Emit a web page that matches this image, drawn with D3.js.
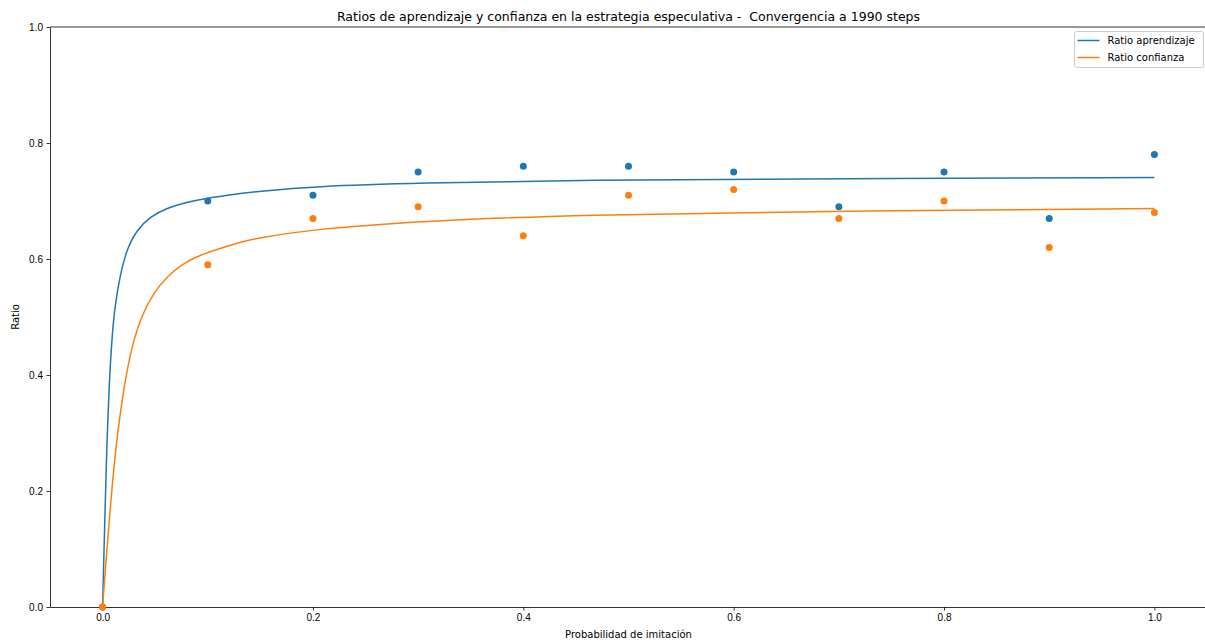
<!DOCTYPE html>
<html>
<head>
<meta charset="utf-8">
<script src="https://cdn.jsdelivr.net/npm/d3@7"></script>
<style>
body { margin: 0; background: #fff; }
svg { display: block; font-family: "DejaVu Sans", sans-serif; }
.axis path, .axis line { stroke: #000; stroke-width: 0.8; }
.axis text { font-size: 10px; fill: #000; }
</style>
</head>
<body>
<svg id="myGraph" width="1205" height="643"></svg>
<script>
// puntos medidos
var probs = [0.0, 0.1, 0.2, 0.3, 0.4, 0.5, 0.6, 0.7, 0.8, 0.9, 1.0];
var aprendizaje = [0.0, 0.70, 0.71, 0.75, 0.76, 0.76, 0.75, 0.69, 0.75, 0.67, 0.78];
var confianza = [0.0, 0.59, 0.67, 0.69, 0.64, 0.71, 0.72, 0.67, 0.70, 0.62, 0.68];

// curvas ajustadas
var curvaAprX = [0, 0.0008, 0.0024, 0.004, 0.0062, 0.0093, 0.0119, 0.0166, 0.023, 0.0325, 0.0452, 0.061, 0.080, 0.099, 0.124, 0.150, 0.2, 0.3, 0.454, 0.7, 1.0];
var curvaAprY = [0, 0.06, 0.17, 0.276, 0.385, 0.475, 0.52, 0.572, 0.617, 0.650, 0.673, 0.688, 0.698, 0.705, 0.7115, 0.717, 0.725, 0.731, 0.736, 0.7385, 0.7405];
var curvaConfX = [0, 0.0024, 0.0046, 0.0071, 0.0093, 0.0125, 0.0166, 0.0214, 0.0277, 0.0372, 0.0483, 0.061, 0.0768, 0.0927, 0.1117, 0.1307, 0.150, 0.2, 0.3, 0.454, 0.7, 1.0];
var curvaConfY = [0, 0.06, 0.11, 0.165, 0.213, 0.272, 0.332, 0.39, 0.449, 0.503, 0.541, 0.5695, 0.5925, 0.607, 0.618, 0.629, 0.637, 0.651, 0.6655, 0.676, 0.683, 0.687];

var xTicks = [0.0, 0.2, 0.4, 0.6, 0.8, 1.0];
var yTicks = [0.0, 0.2, 0.4, 0.6, 0.8, 1.0];

var azul = "#1f77b4";
var naranja = "#ff7f0e";

var plotLeft = 50, plotRight = 1207, plotTop = 27, plotBottom = 607;
var svg = d3.select("#myGraph");

var xScale = d3.scaleLinear().domain([-0.05, 1.05]).range([plotLeft, plotRight]);
var yScale = d3.scaleLinear().domain([0, 1]).range([plotBottom, plotTop]);

// ejes
svg.append("g")
  .attr("class", "axis")
  .attr("transform", "translate(0," + plotBottom + ")")
  .call(d3.axisBottom(xScale).tickValues(xTicks).tickFormat(d3.format(".1f")).tickSize(3.5).tickPadding(3.5).tickSizeOuter(0));

svg.append("g")
  .attr("class", "axis")
  .attr("transform", "translate(" + plotLeft + ",0)")
  .call(d3.axisLeft(yScale).tickValues(yTicks).tickFormat(d3.format(".1f")).tickSize(3.5).tickPadding(3.5).tickSizeOuter(0));

// borde superior
svg.append("line")
  .attr("x1", plotLeft).attr("x2", plotRight)
  .attr("y1", plotTop).attr("y2", plotTop)
  .attr("stroke", "#000").attr("stroke-width", 0.8);

function drawSerie(cx, cy, px, py, color) {
  var line = d3.line()
    .x(function(d, i){ return xScale(cx[i]); })
    .y(function(d, i){ return yScale(cy[i]); })
    .curve(d3.curveBasis);
  svg.append("path")
    .attr("d", line(cx))
    .attr("fill", "none")
    .attr("stroke", color)
    .attr("stroke-width", 1.5);
  svg.append("g").selectAll("circle")
    .data(px)
    .enter().append("circle")
    .attr("cx", function(d){ return xScale(d); })
    .attr("cy", function(d, i){ return yScale(py[i]); })
    .attr("r", 3.5)
    .attr("fill", color);
}
drawSerie(curvaAprX, curvaAprY, probs, aprendizaje, azul);
drawSerie(curvaConfX, curvaConfY, probs, confianza, naranja);

// textos
svg.append("text")
  .attr("x", (plotLeft + plotRight) / 2).attr("y", 21)
  .attr("text-anchor", "middle")
  .attr("font-size", "12.5px")
  .attr("xml:space", "preserve")
  .text("Ratios de aprendizaje y confianza en la estrategia especulativa -  Convergencia a 1990 steps");

svg.append("text")
  .attr("x", (plotLeft + plotRight) / 2).attr("y", 638)
  .attr("text-anchor", "middle")
  .attr("font-size", "10px")
  .text("Probabilidad de imitación");

svg.append("text")
  .attr("transform", "translate(19," + ((plotTop + plotBottom) / 2) + ") rotate(-90)")
  .attr("text-anchor", "middle")
  .attr("font-size", "10px")
  .text("Ratio");

// leyenda
var leg = svg.append("g").attr("transform", "translate(1074.5,31.5)");
leg.append("rect")
  .attr("width", 129).attr("height", 36)
  .attr("rx", 2)
  .attr("fill", "#fff").attr("fill-opacity", 0.8)
  .attr("stroke", "#ccc").attr("stroke-width", 1);
var items = [["Ratio aprendizaje", azul], ["Ratio confianza", naranja]];
items.forEach(function(it, i){
  var y = 9 + i * 17;
  leg.append("line")
    .attr("x1", 3).attr("x2", 25).attr("y1", y).attr("y2", y)
    .attr("stroke", it[1]).attr("stroke-width", 1.5);
  leg.append("text")
    .attr("x", 33).attr("y", y + 3.5)
    .attr("font-size", "10px")
    .text(it[0]);
});
</script>
</body>
</html>
